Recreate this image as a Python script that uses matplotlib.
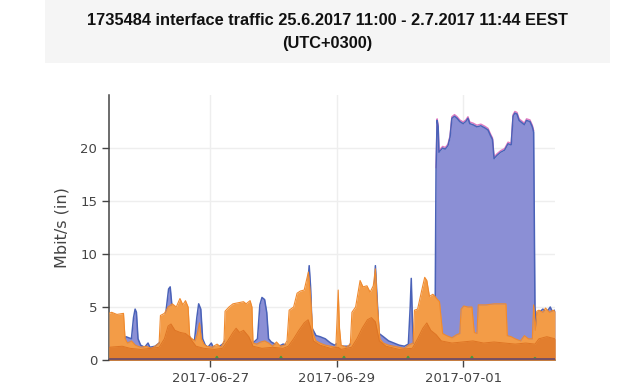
import numpy as np
import matplotlib
matplotlib.use("Agg")
import matplotlib.pyplot as plt
import matplotlib.dates as mdates
from matplotlib.patches import Rectangle
import datetime as dt

START = dt.datetime(2017, 6, 25, 9, 40)
END_H = 169.1

# ---- data (hours from START, Mbit/s) ----
blue_h = [0, 5.5, 6.4, 8.5, 9.3, 9.9, 10.4, 11.0, 12.0, 13.5, 14.8, 15.5, 17.5, 19.0, 20.5, 21.8, 22.6, 23.2, 23.9,
          24.5, 28, 30, 31, 32.4, 33.3, 34.0, 34.8, 35.5, 36.5, 37.5, 38.8, 39.5, 42, 43.6, 45, 53.8, 54.6, 56.3,
          57.2, 58.0, 59.0, 59.8, 60.5, 61.5, 63, 64.5, 66, 67.5, 69, 74.5, 75.3, 75.9, 76.4, 77.0, 78.5, 80, 82,
          84, 85.5, 86.8, 88, 91, 92.5, 100.3, 101.0, 101.6, 102.4, 104, 106, 108, 110, 112, 113.5, 114.2, 114.6,
          115.0, 115.5, 117, 123.6, 124.0, 124.4, 124.8, 125.1, 126.5, 127.5, 128.5, 129.3, 130.0, 131.0, 132.0,
          133.0, 134.3, 135.3, 136.1, 136.8, 138, 139.5, 141, 142.5, 143.7, 144.6, 145.4, 146.0, 147.1, 148.5,
          150, 151.3, 152.5, 153.2, 153.9, 154.7, 155.5, 156.5, 157.5, 158.3, 159.6, 160.5, 161.0, 161.5, 162.1,
          162.7, 163.6, 164.5, 165.5, 166.5, 167.3, 168, 169.1]
blue_v = [1.3, 1.4, 2.2, 2.0, 4.0, 4.8, 4.5, 2.0, 1.4, 1.2, 1.6, 1.2, 1.3, 1.6, 2.0, 5.0, 6.7, 6.9, 5.0,
          3.5, 3.0, 2.5, 2.0, 1.8, 4.0, 5.3, 4.8, 2.0, 1.4, 1.2, 1.6, 1.2, 1.3, 1.6, 2.5, 2.5, 1.6, 2.0,
          5.2, 5.9, 5.7, 4.5, 2.0, 1.7, 1.5, 1.3, 1.5, 1.4, 2.5, 4.0, 7.0, 8.9, 7.0, 3.0, 2.3, 2.2, 2.0,
          1.6, 1.4, 1.6, 1.3, 1.3, 2.0, 5.0, 8.9, 6.0, 2.5, 2.2, 1.8, 1.6, 1.4, 1.3, 1.5, 5.0, 7.7,
          4.0, 1.5, 2.0, 2.5, 18.0, 22.6, 22.0, 19.6, 20.0, 19.9, 20.2, 21.0, 22.8, 23.0, 22.8,
          22.5, 22.3, 22.5, 22.8, 22.3, 22.2, 22.0, 22.1, 21.9, 21.7, 21.2, 20.8, 19.0, 19.3, 19.6,
          19.8, 20.4, 20.3, 23.0, 23.3, 23.2, 22.6, 22.4, 22.2, 22.6, 22.5, 22.0, 21.5, 5.0, 3.0,
          4.5, 4.6, 4.8, 4.6, 4.7, 5.0, 4.6, 4.7]

orange_hi_h = [0, 1, 3, 5.5, 6.1, 7, 8.5, 10, 12, 14, 16, 17.5, 19.0, 19.5, 21, 22.4, 24, 25.5, 26.9, 28, 29, 30.0,
               30.6, 31.5, 32.6, 33.5, 34.3, 35, 36, 37, 39, 41, 42.5, 43.6, 44.0, 45.5, 47, 49, 51, 52, 53.5,
               54.2, 54.6, 56, 57.5, 59, 60.5, 62, 63.5, 65, 66.5, 67.5, 68.3, 70, 71.3, 72.5, 74, 75.1, 75.6,
               76.4, 77.3, 78.5, 80, 82, 84, 86.0, 86.5, 86.9, 87.4, 88, 90, 91.5, 92.1, 93.5, 95.2, 96.3, 97.8,
               99.0, 100.2, 101.0, 101.6, 102.7, 104, 106, 108, 110, 112, 113.5, 115.3, 115.8, 117, 118.5, 119.7,
               120.5, 121.5, 122.8, 123.6, 124.2, 125.3, 126.5, 128, 130, 131.9, 133.0, 133.5, 134.5, 136, 137.6,
               138.5, 139.5, 140, 143, 146, 148.5, 150.5, 151.0, 152.5, 154, 156, 157.5, 159, 160.5, 161.0,
               161.6, 162.2, 163, 164.5, 165.5, 167, 168.3, 169.1]
orange_hi_v = [4.4, 4.5, 4.3, 4.4, 2.0, 1.6, 1.8, 1.4, 1.2, 1.3, 1.1, 1.3, 1.6, 4.2, 4.4, 5.0, 5.3, 5.0, 5.8, 5.2, 5.6, 5.0,
               2.2, 2.0, 1.8, 2.5, 3.5, 2.0, 1.5, 1.3, 1.2, 1.5, 1.2, 1.8, 4.6, 5.0, 5.3, 5.4, 5.5, 5.3, 5.6,
               5.0, 1.6, 1.5, 1.7, 1.8, 1.6, 1.3, 1.7, 1.3, 1.4, 1.8, 4.7, 5.0, 6.3, 6.5, 6.6, 7.8, 8.3,
               6.0, 2.5, 1.8, 1.6, 1.4, 1.3, 1.2, 4.0, 6.6, 3.0, 1.4, 1.2, 1.5, 4.5, 5.0, 7.5, 6.9, 7.0,
               6.4, 7.0, 8.6, 5.5, 2.0, 1.6, 1.4, 1.3, 1.2, 1.1, 1.4, 1.6, 4.7, 4.8, 6.5, 7.8,
               7.5, 6.0, 6.2, 6.0, 5.8, 5.5, 2.5, 2.3, 2.1, 2.4, 2.5, 4.8, 5.1, 5.0, 5.0,
               2.6, 2.5, 5.2, 5.2, 5.3, 5.3, 5.3, 2.3, 2.2, 2.0, 1.8, 2.3, 2.0, 2.0, 5.2,
               2.8, 4.6, 4.7, 4.5, 4.9, 4.5, 4.7, 4.6]

orange_lo_h = [0, 5, 8, 12, 16, 19, 21, 22.4, 23.5, 25, 27, 29, 30.5, 31.5, 33, 36, 40, 43, 45, 47, 48.2, 49.5, 51,
               53, 54.6, 58, 62, 66, 68, 70, 72, 74, 75.5, 76.5, 77.5, 80, 84, 86.9, 88, 92, 94, 96, 98, 99.5,
               101, 102.5, 105, 110, 115, 117, 119, 120.5, 122, 124, 126, 130, 134, 138, 142, 146, 150, 154,
               158, 161.5, 163, 166, 169.1]
orange_lo_v = [1.2, 1.3, 1.1, 1.0, 1.1, 1.2, 2.0, 3.2, 3.4, 2.8, 2.6, 2.5, 2.2, 1.8, 1.3, 1.1, 1.0, 1.1, 1.8, 2.6, 3.0, 2.6, 2.8,
               2.2, 1.3, 1.1, 1.2, 1.1, 1.3, 2.0, 2.8, 3.5, 3.8, 3.0, 1.8, 1.4, 1.1, 1.2, 1.0, 1.2, 2.0, 3.0, 3.8, 4.0,
               3.6, 1.8, 1.3, 1.0, 1.1, 2.0, 3.0, 3.5, 2.8, 2.4, 1.8, 1.6, 1.7, 1.8, 1.6, 1.7, 1.6, 1.5,
               1.6, 1.5, 2.0, 2.2, 2.0]

green_h = [0, 40.4, 40.9, 41.4, 64.7, 65.2, 65.7, 88.6, 89.1, 89.6, 112.9, 113.4, 113.9, 137.1, 137.6, 138.1,
           161.0, 161.5, 162.0, 169.1]
green_v = [0.05, 0.05, 0.3, 0.05, 0.05, 0.3, 0.05, 0.05, 0.3, 0.05, 0.05, 0.3, 0.05, 0.05, 0.3, 0.05,
           0.05, 0.2, 0.05, 0.05]

zero_h = [0, 169.1]
zero_v = [0.1, 0.1]

y_ticks = [0, 5, 10, 15, 20]
x_ticks = ["2017-06-27", "2017-06-29", "2017-07-01"]
title = "1735484 interface traffic 25.6.2017 11:00 - 2.7.2017 11:44 EEST\n(UTC+0300)"
ylabel = "Mbit/s (in)"


def to_dates(hours):
    return [START + dt.timedelta(hours=h) for h in hours]


fig = plt.figure(figsize=(6.35, 3.86), dpi=100)
fig.patch.set_facecolor("white")
fig.patches.append(Rectangle((45 / 635, 1 - 63 / 386), 565 / 635, 63 / 386, transform=fig.transFigure,
                             facecolor="#f5f5f5", edgecolor="none", zorder=0))
fig.text(327 / 635, 1 - 32 / 386, title, ha="center", va="center", fontsize=11.8, fontweight="bold",
         family="Liberation Sans", color="#111111", linespacing=1.7)

ax = fig.add_axes([109 / 635, 1 - 360 / 386, 446 / 635, 265 / 386])
ax.set_facecolor("white")

bd = to_dates(blue_h)
ax.fill_between(bd, 0, blue_v, color="#8b8fd5", lw=0, zorder=2)
bv = np.array(blue_v)
pink = np.where(bv > 15, bv, np.nan)
ax.plot(bd, pink + 0.15, color="#e07ac0", lw=1.0, zorder=3)
ax.plot(bd, blue_v, color="#4a62b8", lw=1.1, zorder=3)

od = to_dates(orange_hi_h)
ax.fill_between(od, 0, orange_hi_v, color="#f39c47", lw=0, zorder=4)
ax.plot(od, orange_hi_v, color="#f08a2e", lw=0.8, zorder=4)

ld = to_dates(orange_lo_h)
ax.fill_between(ld, 0, orange_lo_v, color="#e27e2e", lw=0, zorder=5)
ax.plot(ld, orange_lo_v, color="#de7424", lw=0.7, zorder=5)

ax.plot(to_dates(green_h), green_v, color="#4a9a3a", lw=1.5, zorder=6)
ax.plot(to_dates(zero_h), zero_v, color="#7b4a68", lw=1.3, zorder=6)

ax.set_xlim(START, START + dt.timedelta(hours=END_H))
ax.set_ylim(0, 25)
ax.set_yticks(y_ticks)
ax.set_yticklabels([str(t) for t in y_ticks])
ax.set_xticks([mdates.date2num(dt.datetime.strptime(s, "%Y-%m-%d")) for s in x_ticks])
ax.set_xticklabels(x_ticks)

for s in ["top", "right"]:
    ax.spines[s].set_visible(False)
ax.spines["left"].set_color("#444444")
ax.spines["bottom"].set_color("#444444")
ax.spines["left"].set_linewidth(1.1)
ax.spines["bottom"].set_linewidth(1.1)
ax.grid(True, color="#eeeeee", lw=1.0, zorder=0)
ax.set_axisbelow(True)
ax.tick_params(axis="both", colors="#444444", labelsize=9.5, length=5, width=1, direction="out")
ax.set_ylabel(ylabel, fontsize=11.5, color="#444444", labelpad=8)

fig.savefig("out.png", dpi=100)
